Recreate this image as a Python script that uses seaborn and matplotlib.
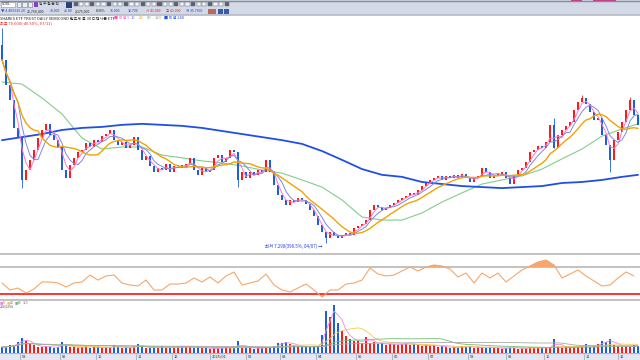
import numpy as np
import pandas as pd
import matplotlib
matplotlib.use("Agg")
import matplotlib.pyplot as plt
import matplotlib.transforms as mtrans
from matplotlib.patches import Rectangle
import seaborn as sns

# ---- data (one candle ~ two trading days) ----
first_open = 65.6
closes = [61.2, 53.8, 49.4, 41.2, 38.2, 25.9, 28.8, 31.8, 34.7, 38.2,
          40.6, 42.4, 39.1, 37.6, 35.6, 28.8, 26.5, 30.3, 32.4, 34.1,
          34.7, 36.8, 35.6, 37.6, 37.1, 38.8, 39.4, 40.6, 37.6, 36.2,
          37.1, 35.3, 36.2, 38.5, 34.7, 31.8, 32.9, 30.0, 28.2, 29.4,
          28.8, 30.6, 28.2, 30.0, 30.3, 29.4, 30.6, 32.4, 28.8, 27.4,
          29.4, 28.2, 28.8, 32.4, 33.2, 31.2, 32.4, 34.7, 34.1, 25.9,
          28.2, 26.5, 28.2, 27.4, 28.8, 28.2, 31.8, 28.2, 24.4, 21.5,
          20.0, 18.5, 20.0, 19.4, 20.6, 20.0, 18.8, 17.1, 15.3, 12.6,
          10.6, 8.8, 10.6, 9.4, 8.8, 9.7, 10.3, 9.7, 11.8, 12.4,
          12.9, 14.1, 17.1, 18.5, 17.9, 17.1, 17.6, 18.5, 19.1, 20.0,
          20.6, 21.2, 22.1, 21.5, 22.9, 24.1, 25.0, 25.9, 26.5, 27.1,
          25.9, 27.1, 26.5, 27.4, 26.5, 27.6, 26.5, 25.3, 26.5, 27.1,
          29.4, 28.2, 26.5, 27.1, 27.6, 28.2, 26.5, 24.7, 27.4, 28.8,
          29.4, 31.2, 34.1, 34.7, 35.9, 35.3, 37.1, 42.1, 35.3, 39.1,
          40.6, 41.8, 42.9, 46.5, 48.8, 50.0, 48.2, 45.9, 43.5, 44.1,
          39.1, 36.2, 31.8, 37.6, 40.0, 42.9, 46.5, 49.4, 45.0, 42.1]

# notable wicks (NaN = body edge)
wick_idx = [0, 5, 59, 81, 138, 145, 152, 157]
wick_hi = [70.6, np.nan, np.nan, np.nan, 44.1, 50.9, np.nan, 50.3]
wick_lo = [np.nan, 23.5, 23.8, 7.29, np.nan, np.nan, 28.2, np.nan]

# long moving averages read every 5 candles
ma_idx = list(range(0, 160, 5)) + [159]
ma60 = [54.7, 54.1, 50.0, 45.3, 38.2, 35.0, 35.6, 35.6, 33.2, 32.4, 31.5,
        30.9, 30.0, 28.8, 27.9, 25.9, 23.8, 20.0, 15.0, 14.1, 14.1, 16.2,
        19.4, 22.1, 24.7, 25.9, 27.1, 29.1, 32.1, 35.0, 38.8, 40.9, 42.4]
ma240 = [37.6, 38.5, 39.4, 40.6, 41.2, 41.5, 42.1, 42.4, 42.1, 41.8, 41.2,
         40.3, 39.4, 38.5, 37.6, 36.5, 34.4, 31.8, 29.1, 27.4, 26.8, 25.3,
         24.7, 24.1, 23.8, 23.5, 23.8, 24.1, 25.0, 25.3, 25.9, 26.8, 27.4]

volume = [6, 6, 8, 8, 11, 15, 12, 9, 8, 6,
          6, 7, 6, 5, 6, 11, 8, 6, 6, 5,
          6, 7, 5, 6, 6, 5, 6, 5, 8, 6,
          5, 6, 5, 7, 9, 6, 5, 5, 6, 5,
          7, 5, 5, 6, 7, 7, 6, 7, 5, 6,
          5, 5, 4, 5, 5, 5, 6, 5, 5, 12,
          5, 5, 6, 4, 5, 5, 6, 5, 7, 10,
          10, 11, 9, 8, 7, 6, 7, 6, 6, 7,
          18, 42, 36, 48, 30, 22, 17, 14, 12, 12,
          10, 16, 10, 11, 9, 10, 8, 9, 9, 8,
          9, 10, 8, 9, 8, 7, 8, 7, 8, 6,
          7, 6, 5, 6, 5, 7, 6, 7, 5, 6,
          6, 5, 6, 5, 5, 4, 5, 6, 5, 4,
          5, 5, 6, 5, 6, 5, 5, 6, 14, 6,
          5, 6, 5, 6, 6, 7, 9, 6, 7, 9,
          12, 11, 14, 8, 7, 6, 7, 6, 8, 7]

# oscillator, every 2 candles
rsi_idx = list(range(0, 160, 2))
rsi = [46.3, 35.9, 38.9, 31.5, 37.4, 47.8, 47.8, 46.3, 40.4, 46.3,
       47.8, 58.1, 50.7, 56.7, 58.1, 46.3, 43.3, 41.9, 50.7, 35.9,
       35.9, 44.8, 44.8, 46.3, 53.7, 47.8, 55.2, 46.3, 56.7, 62.6,
       43.3, 46.3, 49.3, 59.6, 43.3, 35.9, 33.0, 38.9, 44.8, 35.9,
       25.6, 35.9, 35.9, 44.8, 46.3, 50.7, 68.5, 59.6, 56.7, 58.1,
       64.1, 70.0, 64.1, 70.0, 73.0, 71.5, 67.0, 55.2, 61.1, 46.3,
       61.1, 53.7, 61.1, 47.8, 56.7, 65.6, 71.5, 77.4, 80.4, 73.0,
       53.7, 59.6, 65.6, 56.7, 49.3, 41.9, 43.3, 53.7, 62.6, 56.7]

month_idx = [4.5, 14.5, 23.5, 33.5, 42.5, 52, 61, 69.5, 78.5, 88.5,
             97.5, 106.5, 116.5, 126, 135.5, 145.5, 154]
month_lab = ["08", "09", "10", "11", "12", "2025/01", "02", "03", "04", "05",
             "06", "07", "08", "09", "10", "11", "12"]

UP = "#ff1a1a"
DOWN = "#1c5ee0"

sns.set_theme(style="white")
plt.rcParams['font.family'] = ['Noto Sans CJK KR', 'DejaVu Sans']
plt.rcParams['axes.unicode_minus'] = False

fig = plt.figure(figsize=(6.4, 3.6), dpi=100)
fig.patch.set_facecolor("white")

# background in pixel coords
bg = fig.add_axes([0, 0, 1, 1])
bg.set_xlim(0, 640)
bg.set_ylim(360, 0)
bg.axis('off')

# toolbar
bg.add_patch(Rectangle((0, 0), 640, 15, color="#d3d9e6", lw=0))
bg.plot([0, 640], [0.5, 0.5], color="#868b94", lw=1)
bg.plot([0, 640], [14.6, 14.6], color="#b5b9c3", lw=1.2)
bg.add_patch(Rectangle((571, 0), 11, 1.6, color="#d0308a", lw=0))
bg.add_patch(Rectangle((593, 0), 23, 1.6, color="#d0308a", lw=0))
bg.add_patch(Rectangle((1, 1.5), 14, 5.5, facecolor="white", edgecolor="#8a8f9c", lw=0.4))
bg.text(2, 4.3, "SOXL", fontsize=2.6, va='center', color="#222")
for bx in [16.5, 22, 27.5]:
    bg.add_patch(Rectangle((bx, 2), 4.5, 4.5, facecolor="#eef0f6", edgecolor="#7a7f8c", lw=0.4))
bg.add_patch(Rectangle((33.5, 2), 4.5, 4.5, color="#8a3cc8", lw=0))
bg.text(39, 4.3, "일 주 월 분 틱", fontsize=2.6, va='center', color="#333")
bg.add_patch(Rectangle((66, 1.5), 6, 6, color="#27407e", lw=0))
tool_x = np.arange(73.5, 230, 5.6)
for k, bx in enumerate(tool_x):
    fc = "#f4f5f9" if k % 3 else "#5a606c"
    bg.add_patch(Rectangle((bx, 2.2), 4.2, 4.2, facecolor=fc, edgecolor="#6a6f7c", lw=0.35))
row2 = [(1, "▼ 4.4093", "#1f3fd0"), (16, "-19.20", "#1f3fd0"), (27, "25,760,400", "#222"),
        (50, "38.000", "#1f3fd0"), (64, "26.80", "#1f3fd0"), (75, "2,175,000", "#222"),
        (96, "8.30%", "#222"), (110, "36.000", "#1f3fd0"), (128, "32.700", "#1f3fd0"),
        (146, "시 41.000", "#e02020"), (166, "고 41.000", "#e02020"), (186, "저 35.7000", "#1f3fd0")]
for px, t, col in row2:
    bg.text(px, 11.2, t, fontsize=2.5, va='center', color=col)
bg.add_patch(Rectangle((208, 8.5), 8, 5, color="#b86a5c", lw=0))
bg.add_patch(Rectangle((217.5, 8.5), 5, 5, color="#3a5ab0", lw=0))
bg.add_patch(Rectangle((223.5, 8.5), 5, 5, color="#3a5ab0", lw=0))

# panel separators
bg.plot([0, 640], [254, 254], color="#bdbdbd", lw=1.3)
bg.plot([0, 640], [300, 300], color="#bdbdbd", lw=1.3)
# x-axis strip
bg.add_patch(Rectangle((0, 353), 640, 7, color="#e4e7ef", lw=0))
bg.plot([0, 640], [353.3, 353.3], color="#b0b4bf", lw=0.8)

# ---- main price panel ----
ax = fig.add_axes([0, 1 - 254 / 360, 1, 239 / 360])
ax.patch.set_alpha(0)
x = np.arange(len(closes))
c = np.array(closes)
o = np.array([first_open] + closes[:-1])
up = c >= o
cols = np.where(up, UP, DOWN)
body_lo = np.minimum(o, c)
body_h = np.maximum(np.abs(c - o), 0.35)
ax.bar(x, body_h, bottom=body_lo, width=0.58, color=cols, linewidth=0, zorder=3)
for i, hi, lo in zip(wick_idx, wick_hi, wick_lo):
    h = max(o[i], c[i]) if np.isnan(hi) else hi
    l = min(o[i], c[i]) if np.isnan(lo) else lo
    ax.vlines(i, l, h, color=cols[i], lw=0.6, zorder=3)

s = pd.Series(c)
sns.lineplot(x=x, y=s.rolling(3, min_periods=1).mean(), ax=ax, color="#ff78cc", lw=0.7, zorder=4)
sns.lineplot(x=x, y=s.rolling(5, min_periods=1).mean(), ax=ax, color="#8088e0", lw=0.7, zorder=4)
sns.lineplot(x=x, y=s.rolling(10, min_periods=1).mean(), ax=ax, color="#f0a400", lw=1.0, zorder=4)
sns.lineplot(x=ma_idx, y=ma60, ax=ax, color="#84cc8c", lw=0.8, zorder=2)
sns.lineplot(x=ma_idx, y=ma240, ax=ax, color="#1f4fe8", lw=1.3, zorder=2)

ax.text(81 - 0.8, 7.29 - 0.9, "최저 7.290(396.5%, 04/07) →", fontsize=3.2, color="#2a3ee0",
        ha='right', va='center')
ax.set_xlim(-0.5, 159.5)
ax.set_ylim((268 - 254) / 3.4, (268 - 15) / 3.4)
ax.axis('off')

# ---- oscillator panel ----
ar = fig.add_axes([0, 1 - 300 / 360, 1, 46 / 360])
ar.patch.set_alpha(0)
r = np.array(rsi)
ri = np.array(rsi_idx)
ar.axhline(70, color="#bdbdbd", lw=1.3, zorder=1)
ar.axhline(30, color="#ff1010", lw=1.2, zorder=3)
ar.fill_between(ri, 70, r, where=r > 70, interpolate=True, color="#f4a870", lw=0, zorder=2)
ar.fill_between(ri, 30, r, where=r < 30, interpolate=True, color="#8cc8ee", lw=0, zorder=2)
sns.lineplot(x=ri, y=r, ax=ar, color="#f6a66a", lw=0.8, zorder=4)
ar.set_xlim(-0.5, 159.5)
ar.set_ylim(21.1, 89.3)
ar.axis('off')

# ---- volume panel ----
av = fig.add_axes([0, 1 - 353 / 360, 1, 53 / 360])
av.patch.set_alpha(0)
av.bar(x, volume, width=0.62, color=cols, linewidth=0, zorder=2)
vs = pd.Series(volume, dtype=float)
sns.lineplot(x=x, y=vs.rolling(3, min_periods=1).mean(), ax=av, color="#f088e0", lw=0.6, zorder=3)
sns.lineplot(x=x, y=vs.rolling(10, min_periods=1).mean(), ax=av, color="#f4c850", lw=0.6, zorder=3)
sns.lineplot(x=x, y=vs.rolling(30, min_periods=1).mean(), ax=av, color="#6cc070", lw=0.6, zorder=3)
sns.lineplot(x=x, y=vs.rolling(60, min_periods=1).mean(), ax=av, color="#a8a8a8", lw=0.6, zorder=3)
av.set_xlim(-0.5, 159.5)
av.set_ylim(0, 53)
av.axis('off')

# month ticks on the strip
tr = mtrans.blended_transform_factory(av.transData, bg.transData)
for mi, lab in zip(month_idx, month_lab):
    bg.plot([mi, mi], [353.5, 359.5], color="#9aa0ac", lw=0.5, transform=tr)
    bg.text(mi + 0.4, 356.6, lab, fontsize=2.8, color="#333", va='center', transform=tr)

# ---- header texts ----
top = fig.add_axes([0, 0, 1, 1])
top.set_xlim(0, 640)
top.set_ylim(360, 0)
top.axis('off')
top.text(0, 18.2, "SHARES ETF TRUST DAILY SEMICOND 반도체 불 3X 디렉시온 ETF", fontsize=2.9,
         va='center', color="#222")
legend_bits = [(114, "■ 이평 5", "#f060c0"), (131, "10", "#6a72d8"), (139, "20", "#e89a00"),
               (147, "60", "#58b060"), (155, "120", "#9a9a9a"), (164, "■ 이평 240", "#1f4fe8")]
for px, t, col in legend_bits:
    top.text(px, 18.2, t, fontsize=2.9, va='center', color=col)
top.text(0, 23.6, "최고 70.600(-46.50%, 07/11)", fontsize=2.9, va='center', color="#f02020")

vol_bits = [(0, "■", "#f080e0"), (3, "5", "#666"), (7, "■", "#f4c850"), (10, "20", "#666"),
            (15, "■", "#6cc070"), (18, "60", "#666"), (23, "120", "#888")]
for px, t, col in vol_bits:
    top.text(px, 302.8, t, fontsize=2.4, va='center', color=col)
top.text(0, 306.5, "234,0294", fontsize=2.4, va='center', color="#555")

fig.savefig("out.png", dpi=100)
